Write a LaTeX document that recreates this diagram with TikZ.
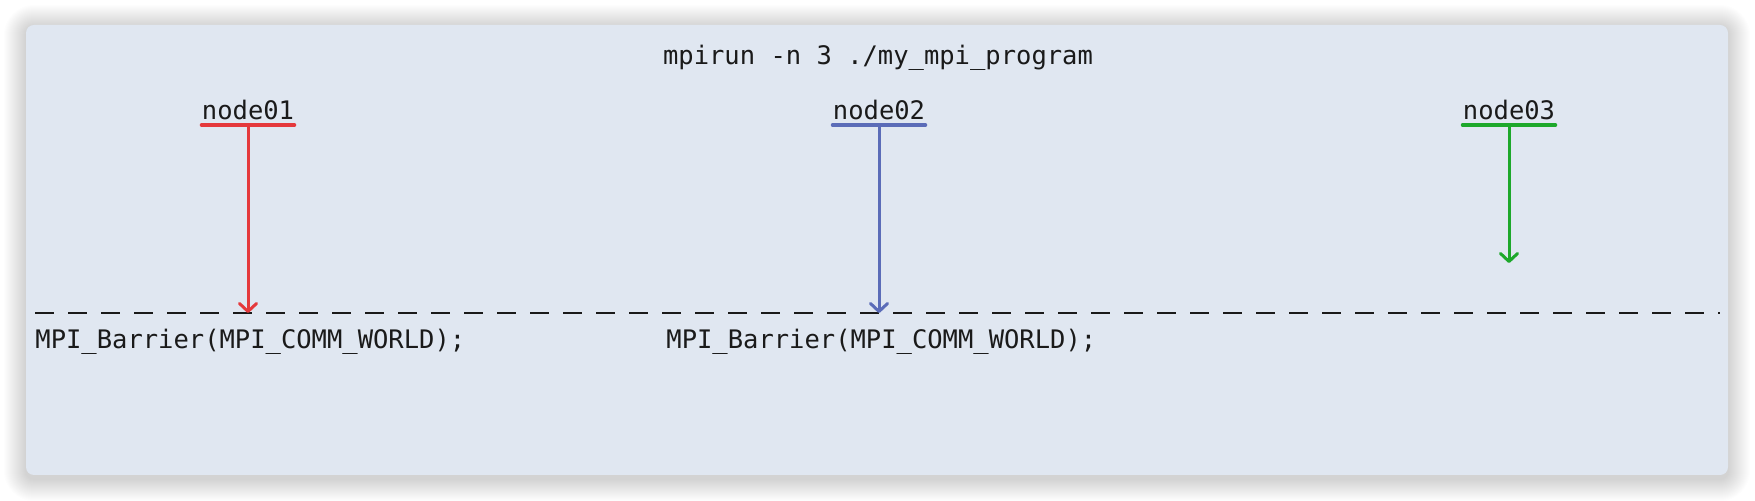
\documentclass[tikz,border=0pt]{standalone}
\usepackage{fontspec}
\setmonofont{DejaVu Sans Mono}
\usetikzlibrary{arrows.meta,positioning,calc}
\definecolor{mpred}{HTML}{E5393C}
\definecolor{mpblue}{HTML}{5B6CB8}
\definecolor{mpgreen}{HTML}{1DA82B}
\definecolor{mppanel}{HTML}{E0E7F1}
\definecolor{mpink}{HTML}{1A1A1A}
\tikzset{
  code/.style={font=\ttfamily\fontsize{12.75}{14}\selectfont, text=mpink, inner sep=0pt},
  uline/.style={line width=1.8pt, line cap=round},
  arr/.style={line width=1.5pt, -{Straight Barb[length=4pt,width=8.5pt,round]}},
}

\begin{document}
\begin{tikzpicture}[x=0.5pt, y=-0.5pt]
    \useasboundingbox (0,0) rectangle (1755,501);
    \fill[white] (0,0) rectangle (1755,501);
    % soft shadow
    \foreach \i in {1,...,22}
      \fill[black, opacity=0.009, rounded corners=4pt+0.5*\i pt]
        (26-\i,27-\i) rectangle (1728+\i,479+\i);
    \fill[mppanel, rounded corners=4pt] (26,25) rectangle (1728,475);
    % command line
    \node[code, anchor=base] (cmd) at (878,65) {mpirun -n 3 ./my\_mpi\_program};
    % hosts
    \node[code, anchor=base] (n1) at (248,120) {node01};
    \node[code, anchor=base] (n2) at (879,120) {node02};
    \node[code, anchor=base] (n3) at (1509,120) {node03};
    \draw[uline, mpred] ([yshift=-2.5pt]n1.base west) -- ([yshift=-2.5pt]n1.base east);
    \draw[uline, mpblue] ([yshift=-2.5pt]n2.base west) -- ([yshift=-2.5pt]n2.base east);
    \draw[uline, mpgreen] ([yshift=-2.5pt]n3.base west) -- ([yshift=-2.5pt]n3.base east);
    % barrier
    \coordinate (bl) at (35,313);
    \coordinate (br) at (1720,313);
    \draw[line width=1.3pt, mpink, dash pattern=on 9.5pt off 7pt] (bl) -- (br);
    \coordinate (b1) at (248,313);
    \coordinate (b2) at (879,313);
    \coordinate (w3) at (1509,263);
    \draw[arr, mpred] ([yshift=-2.5pt]n1.base) -- (b1);
    \draw[arr, mpblue] ([yshift=-2.5pt]n2.base) -- (b2);
    \draw[arr, mpgreen] ([yshift=-2.5pt]n3.base) -- (w3);
    \node[code, anchor=base west] (c1) at (35,349) {MPI\_Barrier(MPI\_COMM\_WORLD);};
    \node[code, anchor=base west] (c2) at (666,349) {MPI\_Barrier(MPI\_COMM\_WORLD);};
  \end{tikzpicture}
\end{document}
